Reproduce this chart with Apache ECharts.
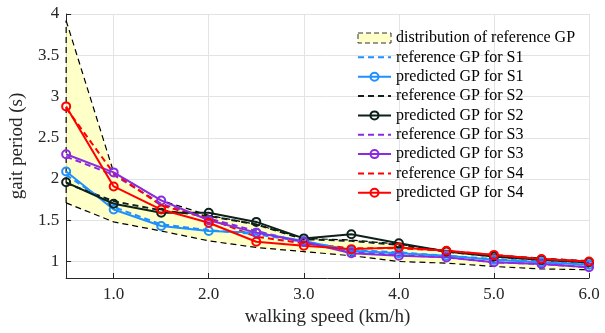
<!DOCTYPE html>
<html>
<head>
<meta charset="utf-8">
<script src="https://cdn.jsdelivr.net/npm/echarts@6/dist/echarts.min.js"></script>
<style>
  html, body { margin: 0; padding: 0; background: #fff; }
  #chart { width: 605px; height: 333px; }
</style>
</head>
<body>
<div id="chart"></div>
<script>
// walking speeds (km/h)
const speeds = [0.5, 1.0, 1.5, 2.0, 2.5, 3.0, 3.5, 4.0, 4.5, 5.0, 5.5, 6.0];

// distribution of reference GP (lower / upper bound)
const distLower = [1.71, 1.48, 1.37, 1.25, 1.17, 1.12, 1.07, 1.00, 0.98, 0.94, 0.91, 0.90];
const distUpper = [3.92, 2.08, 1.74, 1.56, 1.45, 1.28, 1.26, 1.21, 1.13, 1.08, 1.04, 1.01];

// reference / predicted gait period per subject
const refS1  = [2.05, 1.66, 1.45, 1.38, 1.33, 1.24, 1.14, 1.11, 1.07, 1.03, 1.00, 0.97];
const predS1 = [2.09, 1.63, 1.43, 1.37, 1.35, 1.25, 1.13, 1.10, 1.07, 1.02, 0.99, 0.96];
const refS2  = [1.95, 1.73, 1.62, 1.55, 1.45, 1.27, 1.25, 1.20, 1.12, 1.06, 1.02, 0.99];
const predS2 = [1.96, 1.70, 1.59, 1.59, 1.48, 1.28, 1.33, 1.22, 1.12, 1.06, 1.02, 0.99];
const refS3  = [2.27, 2.05, 1.70, 1.52, 1.37, 1.23, 1.12, 1.08, 1.05, 0.99, 0.97, 0.93];
const predS3 = [2.30, 2.08, 1.74, 1.50, 1.35, 1.24, 1.10, 1.07, 1.05, 0.99, 0.97, 0.93];
const refS4  = [2.86, 2.07, 1.68, 1.52, 1.30, 1.22, 1.16, 1.16, 1.13, 1.08, 1.03, 1.00];
const predS4 = [2.88, 1.91, 1.63, 1.47, 1.24, 1.19, 1.15, 1.17, 1.13, 1.08, 1.03, 1.00];

const xTicks = [1, 2, 3, 4, 5, 6];
const yTicks = [1, 1.5, 2, 2.5, 3, 3.5, 4];

const FONT = 'Liberation Serif';
const colors = { S1: '#1e90ff', S2: '#0d2019', S3: '#8a2be2', S4: '#ff0000' };
const bandFill = '#ffffc8';

const pairs = arr => speeds.map((x, i) => [x, arr[i]]);

function refLine(name, arr, color) {
  return {
    name, type: 'line', data: pairs(arr), symbol: 'none',
    lineStyle: { color, width: 2, type: [6, 4] },
    itemStyle: { color: 'rgba(0,0,0,0)', borderWidth: 0 }, z: 3
  };
}
function predLine(name, arr, color) {
  return {
    name, type: 'line', data: pairs(arr), symbol: 'circle', symbolSize: 8,
    lineStyle: { color, width: 2 },
    itemStyle: { color: 'rgba(255,255,255,0)', borderColor: color, borderWidth: 2 },
    z: 4
  };
}

// filled band between lower and upper bound, positioned through the axes
function renderBand(params, api) {
  if (params.dataIndex !== 0) return;
  const top = speeds.map((x, i) => api.coord([x, distUpper[i]]));
  const bottom = speeds.map((x, i) => api.coord([x, distLower[i]])).reverse();
  return {
    type: 'polygon',
    shape: { points: top.concat(bottom) },
    style: { fill: bandFill }
  };
}

const chart = echarts.init(document.getElementById('chart'));

const legendNames = [
  'reference GP for S1', 'predicted GP for S1',
  'reference GP for S2', 'predicted GP for S2',
  'reference GP for S3', 'predicted GP for S3',
  'reference GP for S4', 'predicted GP for S4'
];

chart.setOption({
  animation: false,
  grid: { left: 62, right: 16, top: 14, bottom: 55 },
  legend: {
    left: 357, top: 30, orient: 'vertical', padding: 0,
    itemWidth: 33, itemHeight: 10, itemGap: 3.35,
    textStyle: { fontFamily: FONT, fontSize: 16, color: '#000' },
    data: [
      { name: 'distribution of reference GP', icon: 'rect',
        itemStyle: { color: bandFill, borderColor: '#333', borderWidth: 1, borderType: [5, 3] } }
    ].concat(legendNames)
  },
  xAxis: {
    type: 'value', min: 0.5, max: 6,
    name: 'walking speed (km/h)', nameLocation: 'middle', nameGap: 24,
    nameTextStyle: { fontFamily: FONT, fontSize: 19, color: '#262626' },
    axisLine: { show: true, lineStyle: { color: '#262626', width: 1 } },
    axisTick: { show: true, inside: true, length: 5, customValues: xTicks, lineStyle: { color: '#262626' } },
    axisLabel: { customValues: xTicks, fontFamily: FONT, fontSize: 17, color: '#262626', margin: 8,
      formatter: v => v.toFixed(1) },
    splitLine: { show: true, lineStyle: { color: '#e3e3e3', width: 1 } }
  },
  yAxis: {
    type: 'value', min: 0.8, max: 4,
    name: 'gait period (s)', nameLocation: 'middle', nameGap: 29,
    nameTextStyle: { fontFamily: FONT, fontSize: 19, color: '#262626' },
    axisLine: { show: true, lineStyle: { color: '#262626', width: 1 } },
    axisTick: { show: true, inside: true, length: 5, customValues: yTicks, lineStyle: { color: '#262626' } },
    axisLabel: { customValues: yTicks, fontFamily: FONT, fontSize: 17, color: '#262626', margin: 7 },
    splitLine: { show: true, lineStyle: { color: '#e3e3e3', width: 1 } }
  },
  series: [
    { name: 'distribution of reference GP', type: 'custom', renderItem: renderBand,
      data: pairs(distUpper), encode: { x: 0, y: 1 },
      itemStyle: { color: bandFill }, silent: true, z: 1 },
    // band borders
    { name: 'band-lower', type: 'line', data: pairs(distLower), symbol: 'none',
      lineStyle: { color: '#000', width: 1.2, type: [6, 4] }, silent: true, z: 2 },
    { name: 'band-upper', type: 'line', data: pairs(distUpper), symbol: 'none',
      lineStyle: { color: '#000', width: 1.2, type: [6, 4] }, silent: true, z: 2 },
    { name: 'band-left', type: 'line', data: [[speeds[0], distLower[0]], [speeds[0], distUpper[0]]], symbol: 'none',
      lineStyle: { color: '#000', width: 1.2, type: [6, 4] }, silent: true, z: 2 },
    refLine('reference GP for S1', refS1, colors.S1),
    predLine('predicted GP for S1', predS1, colors.S1),
    refLine('reference GP for S2', refS2, colors.S2),
    predLine('predicted GP for S2', predS2, colors.S2),
    refLine('reference GP for S3', refS3, colors.S3),
    predLine('predicted GP for S3', predS3, colors.S3),
    refLine('reference GP for S4', refS4, colors.S4),
    predLine('predicted GP for S4', predS4, colors.S4)
  ]
});
</script>
</body>
</html>
